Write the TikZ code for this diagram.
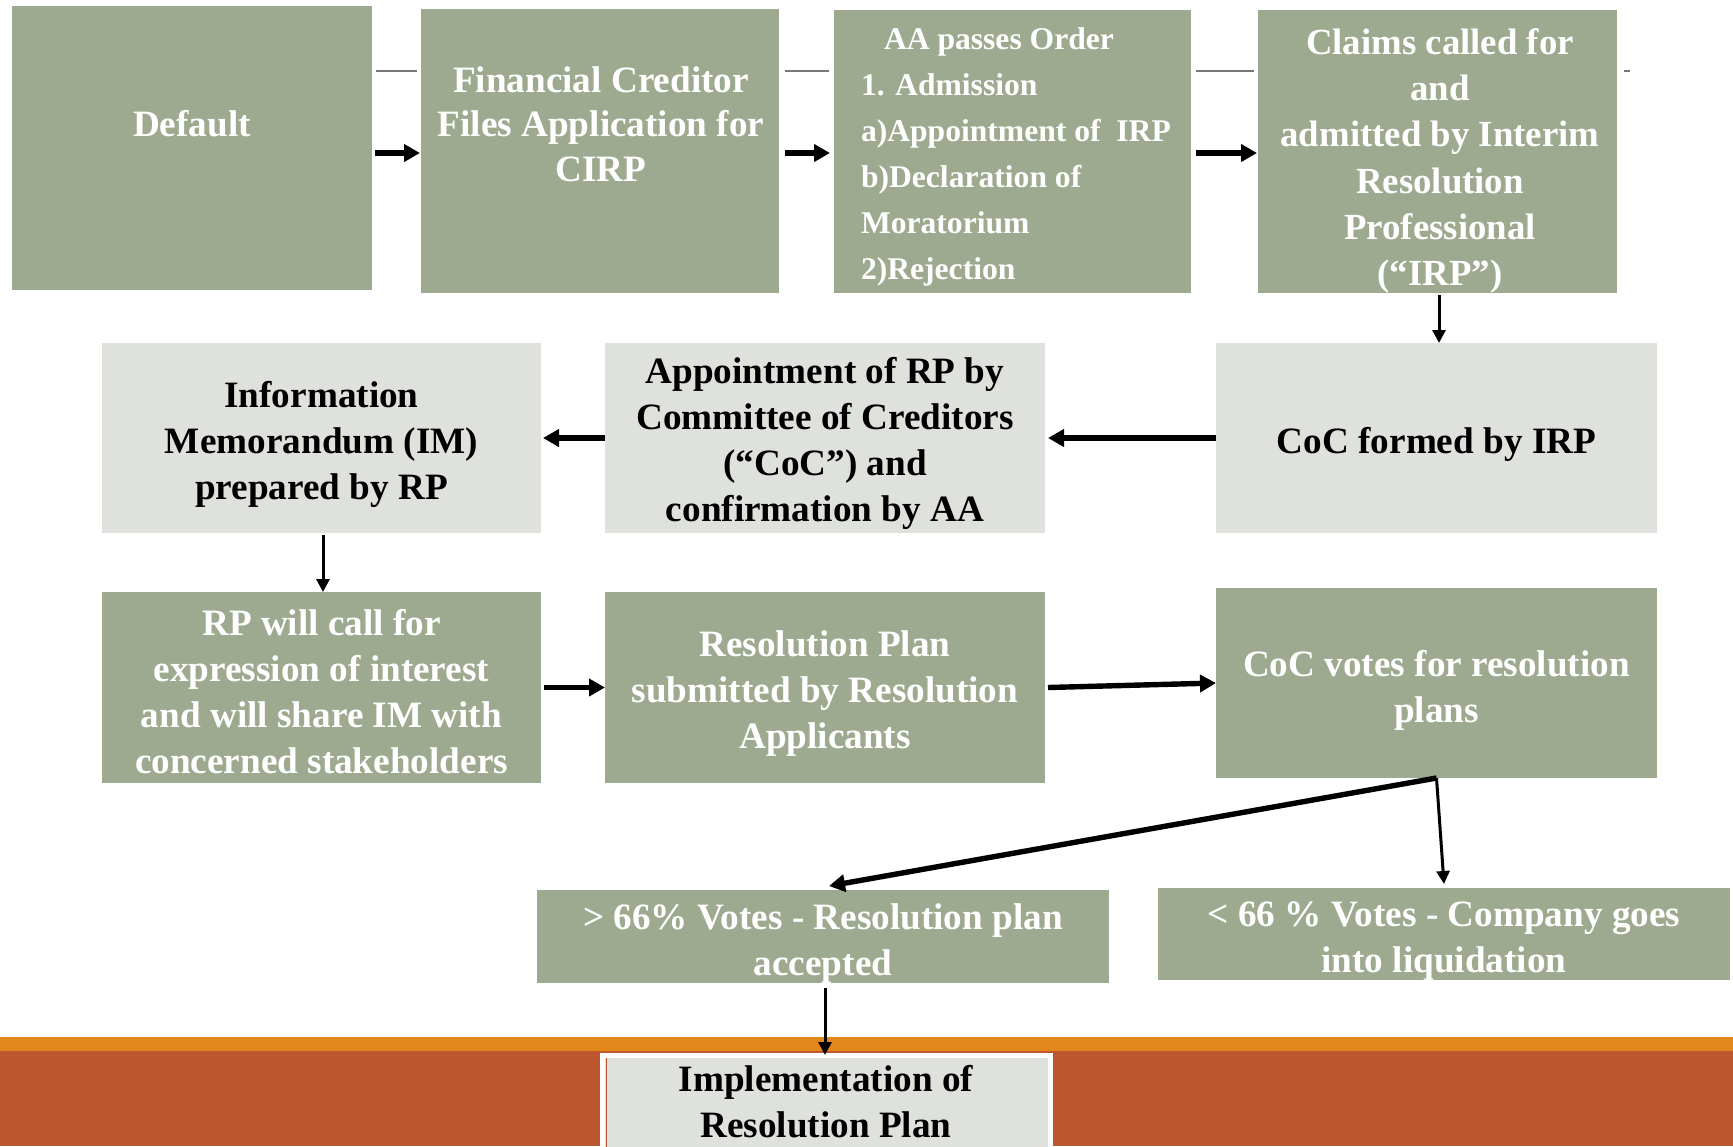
\documentclass[tikz,border=0pt]{standalone}
\usepackage{fontspec}
\setmainfont{Liberation Serif}
\usetikzlibrary{arrows.meta,calc}
\definecolor{sage}{RGB}{158,170,143}
\definecolor{pale}{RGB}{223,226,220}
\definecolor{bandorange}{RGB}{227,135,27}
\definecolor{rust}{RGB}{188,87,47}
\definecolor{rulegrey}{RGB}{120,120,120}

\begin{document}
\begin{tikzpicture}[x=0.5pt,y=-0.5pt,
  sz/.style 2 args={minimum width=#1*0.5pt, minimum height=#2*0.5pt},
  base/.style={inner sep=0pt, outer sep=0pt, draw=none, align=center,
    font=\fontsize{18.6}{23}\selectfont\bfseries},
  sagebox/.style={base, fill=sage},
  palebox/.style={base, fill=pale},
  lbl/.style={base, text=white},
  dark/.style={base, text=black},
  arr/.style={-{Triangle[length=8pt,width=8.5pt]}, line width=2.7pt, black},
  thinarr/.style={-{Triangle[length=6.5pt,width=6.5pt]}, line width=1.5pt, black},
  rulegrey/.style={draw=rulegrey, line width=1pt}]

% canvas and the coloured band at the foot
\path[use as bounding box, fill=white] (0,0) rectangle (1733,1146);
\fill[bandorange] (0,1037) rectangle (1733,1052);
\fill[rust] (0,1051) rectangle (1733,1146);

% first row
\node[sagebox, sz={360}{284}] (default) at (192,148) {};
\node[sagebox, sz={358}{284}] (fc) at (600,151) {};
\node[sagebox, sz={357}{283}] (aa) at (1012.5,151.5) {};
\node[sagebox, sz={359}{283}] (claims) at (1437.5,151.5) {};

\node[lbl] (defaultT) at (192,124) {Default};
\node[lbl, font=\fontsize{18.6}{22.3}\selectfont\bfseries] (fcT) at (601,124)
  {Financial Creditor\\Files Application for\\CIRP};
\node[lbl, align=left, anchor=west, font=\fontsize{15.8}{23}\selectfont\bfseries] (aaT) at (861,157)
  {\hspace*{11.5pt}AA passes Order\\1. Admission\\a)Appointment of~~IRP\\b)Declaration of\\Moratorium\\2)Rejection};
\node[lbl, font=\fontsize{18.4}{23.1}\selectfont\bfseries] (claimsT) at (1440,161)
  {Claims called for\\and\\admitted by Interim\\Resolution\\Professional\\(“IRP”)};

% second row
\node[palebox, sz={439}{190}] (im) at (321.5,438) {};
\node[palebox, sz={440}{190}] (app) at (825,438) {};
\node[palebox, sz={441}{190}] (cocf) at (1436.5,438) {};
\node[dark] (imT) at ($(im)+(0,6)$) {Information\\Memorandum (IM)\\prepared by RP};
\node[dark] (appT) at ($(app)+(0,5)$)
  {Appointment of RP by\\Committee of Creditors\\(“CoC”) and\\confirmation by AA};
\node[dark] (cocfT) at ($(cocf)+(0,6)$) {CoC formed by IRP};

% third row
\node[sagebox, sz={439}{191}] (rpc) at (321.5,687.5) {};
\node[sagebox, sz={440}{191}] (rplan) at (825,687.5) {};
\node[sagebox, sz={441}{190}] (cocv) at (1436.5,683) {};
\node[lbl] (rpcT) at ($(rpc)+(0,4)$)
  {RP will call for\\expression of interest\\and will share IM with\\concerned stakeholders};
\node[lbl] (rplanT) at ($(rplan)+(0,6)$)
  {Resolution Plan\\submitted by Resolution\\Applicants};
\node[lbl] (cocvT) at ($(cocv)+(0,7)$) {CoC votes for resolution\\plans};

% outcomes of the vote
\node[sagebox, sz={572}{93}] (gt) at (823,936.5) {};
\node[sagebox, sz={572}{92}] (lt) at (1444,934) {};
\node[lbl] (gtT) at ($(gt)+(0,7)$) {> 66\% Votes - Resolution plan\\accepted};
\node[lbl] (ltT) at ($(lt)+(0,7)$) {< 66 \% Votes - Company goes\\into liquidation};

% final step on the band
\node[palebox, draw=white, line width=2.5pt, sz={448}{104}] (impl) at (826.5,1107) {};
\draw[rust, line width=0.8pt] ($(impl.north west)+(4,3)$) -- ($(impl.south west)+(4,0)$);
\node[dark] (implT) at (826,1102) {Implementation of\\Resolution Plan};

% short grey rules between the top boxes
\coordinate (ruleY) at (0,71);
\draw[rulegrey] ($(default.east |- ruleY)+(4,0)$) -- ($(fc.west |- ruleY)+(-4,0)$);
\draw[rulegrey] ($(fc.east |- ruleY)+(6,0)$) -- ($(aa.west |- ruleY)+(-5,0)$);
\draw[rulegrey] ($(aa.east |- ruleY)+(5,0)$) -- ($(claims.west |- ruleY)+(-4,0)$);
\draw[rulegrey] ($(claims.east |- ruleY)+(7,0)$) -- ($(claims.east |- ruleY)+(13,0)$);

% flow connectors
\draw[arr] ($(default.east)+(3,5)$) -- ($(fc.west)+(-1,2)$);
\draw[arr] ($(fc.east)+(6,2)$) -- ($(aa.west)+(-4,1.5)$);
\draw[arr] ($(aa.east)+(5,1.5)$) -- ($(claims.west)+(-1,1.5)$);
\draw[thinarr] ($(claims.south)+(1.5,2)$) -- ($(cocf.north)+(2.5,0)$);
\draw[arr] (cocf.west) -- ($(app.east)+(3,0)$);
\draw[arr] (app.west) -- ($(im.east)+(2,0)$);
\draw[thinarr] ($(im.south)+(1.5,2)$) -- ($(rpc.north)+(1.5,0)$);
\draw[arr] ($(rpc.east)+(3,0)$) -- (rplan.west);
\draw[arr] ($(rplan.east)+(3,0)$) -- (cocv.west);
\draw[arr] (cocv.south) -- ($(gt.north)+(6,-4)$);
\draw[thinarr] (cocv.south) -- ($(lt.north)+(0,-4)$);
\draw[thinarr] ($(gt.south)+(2,5)$) -- ($(impl.north)+(-1.5,0)$);
\end{tikzpicture}
\end{document}
